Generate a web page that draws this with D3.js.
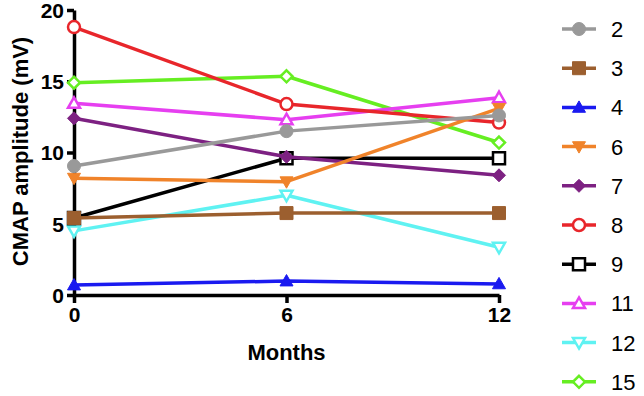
<!DOCTYPE html>
<html>
<head>
<meta charset="utf-8">
<script src="https://cdn.jsdelivr.net/npm/d3@7"></script>
<style>
  body { margin: 0; background: #fff; }
  svg { display: block; font-family: "Liberation Sans", Arial, sans-serif; }
</style>
</head>
<body>
<svg id="chart" width="644" height="396"></svg>
<script>
// data
var months = [0, 6, 12];
var seriesNames = ['2', '3', '4', '6', '7', '8', '9', '11', '12', '15'];
var s2  = [9.05, 11.5, 12.6];
var s3  = [5.4, 5.75, 5.75];
var s4  = [0.7, 0.98, 0.78];
var s6  = [8.2, 7.95, 13.1];
var s7  = [12.4, 9.7, 8.4];
var s8  = [18.8, 13.4, 12.1];
var s9  = [5.4, 9.6, 9.6];
var s11 = [13.45, 12.3, 13.85];
var s12 = [4.5, 7.0, 3.35];
var s15 = [14.9, 15.35, 10.7];
var yTicks = [0, 5, 10, 15, 20];
var xTicks = [0, 6, 12];

var colors  = ['#999999', '#9c5f2f', '#1a1af0', '#f0832a', '#7d2182', '#e8262b', '#000000', '#e63ff0', '#5ff2f2', '#66ee22'];
var shapes  = ['circle', 'square', 'triUp', 'triDown', 'diamond', 'circle', 'square', 'triUp', 'triDown', 'diamond'];
var filled  = [true, true, true, true, true, false, false, false, false, false];

var values = [s2, s3, s4, s6, s7, s8, s9, s11, s12, s15];
var series = seriesNames.map(function(n, i) {
  return { name: n, color: colors[i], shape: shapes[i], filled: filled[i],
           pts: months.map(function(m, j) { return { x: m, y: values[i][j] }; }) };
});

var svg = d3.select('#chart');
var margin = { top: 10, left: 74 };
var innerWidth = 425;
var innerHeight = 285;

var xScale = d3.scaleLinear().domain([0, 12]).range([0, innerWidth]);
var yScale = d3.scaleLinear().domain([0, 20]).range([innerHeight, 0]);

var g = svg.append('g')
  .attr('transform', 'translate(' + margin.left + ',' + margin.top + ')');

// axes
var yAxis = d3.axisLeft(yScale).tickValues(yTicks).tickSize(7).tickSizeOuter(0).tickPadding(3);
var xAxis = d3.axisBottom(xScale).tickValues(xTicks).tickSize(8).tickSizeOuter(0).tickPadding(4);

var ya = g.append('g').call(yAxis);
var xa = g.append('g').attr('transform', 'translate(0,' + innerHeight + ')').call(xAxis);

[ya, xa].forEach(function(a) {
  a.select('.domain').attr('stroke', '#000').attr('stroke-width', 3.5);
  a.selectAll('.tick line').attr('stroke', '#000').attr('stroke-width', 3.5);
  a.selectAll('.tick text')
    .attr('fill', '#000')
    .style('font-size', '21px')
    .style('font-weight', 'bold');
});
ya.selectAll('.tick text').attr('dy', '0.35em');

g.append('text')
  .attr('x', innerWidth / 2)
  .attr('y', innerHeight + 65)
  .attr('text-anchor', 'middle')
  .style('font-size', '22px')
  .style('font-weight', 'bold')
  .text('Months');

g.append('text')
  .attr('transform', 'rotate(-90)')
  .attr('x', -innerHeight / 2 + 1)
  .attr('y', -46)
  .attr('text-anchor', 'middle')
  .style('font-size', '22px')
  .style('font-weight', 'bold')
  .text('CMAP amplitude (mV)');

// marker path generator
function markerPath(shape, s) {
  if (shape === 'circle') return d3.symbol().type(d3.symbolCircle).size(Math.PI * s * s)();
  if (shape === 'square') return 'M' + (-s) + ',' + (-s) + 'H' + s + 'V' + s + 'H' + (-s) + 'Z';
  if (shape === 'diamond') return 'M0,' + (-s) + 'L' + s + ',0L0,' + s + 'L' + (-s) + ',0Z';
  if (shape === 'triUp') return 'M0,' + (-s) + 'L' + s + ',' + (s * 0.75) + 'L' + (-s) + ',' + (s * 0.75) + 'Z';
  if (shape === 'triDown') return 'M0,' + s + 'L' + s + ',' + (-s * 0.75) + 'L' + (-s) + ',' + (-s * 0.75) + 'Z';
}

function drawMarker(sel, d) {
  var size = d.filled ? 6.5 : 6;
  sel.append('path')
    .attr('d', markerPath(d.shape, size))
    .attr('fill', d.filled ? d.color : '#fff')
    .attr('stroke', d.color)
    .attr('stroke-width', d.filled ? 1 : 2.5);
}

var line = d3.line().x(function(d) { return xScale(d.x); }).y(function(d) { return yScale(d.y); });

// first series ends up on top
var drawOrder = series.slice().reverse();
var sg = g.selectAll('.series')
  .data(drawOrder)
  .enter()
  .append('g')
  .attr('class', 'series');

sg.append('path')
  .attr('d', function(d) { return line(d.pts); })
  .attr('fill', 'none')
  .attr('stroke', function(d) { return d.color; })
  .attr('stroke-width', 3.5)
  .attr('stroke-linejoin', 'round');

sg.each(function(d) {
  var self = d3.select(this);
  d.pts.forEach(function(p) {
    var m = self.append('g').attr('transform', 'translate(' + xScale(p.x) + ',' + yScale(p.y) + ')');
    drawMarker(m, d);
  });
});

// legend
var legend = svg.append('g').attr('transform', 'translate(562,29)');
var lg = legend.selectAll('.item')
  .data(series)
  .enter()
  .append('g')
  .attr('class', 'item')
  .attr('transform', function(d, i) { return 'translate(0,' + (i * 39.2) + ')'; });

lg.append('line')
  .attr('x1', 0).attr('x2', 34)
  .attr('stroke', function(d) { return d.color; })
  .attr('stroke-width', 3.5);

lg.each(function(d) {
  var m = d3.select(this).append('g').attr('transform', 'translate(17,0)');
  drawMarker(m, d);
});

lg.append('text')
  .attr('x', 49)
  .attr('dy', '0.36em')
  .style('font-size', '22px')
  .attr('fill', '#000')
  .text(function(d) { return d.name; });
</script>
</body>
</html>
